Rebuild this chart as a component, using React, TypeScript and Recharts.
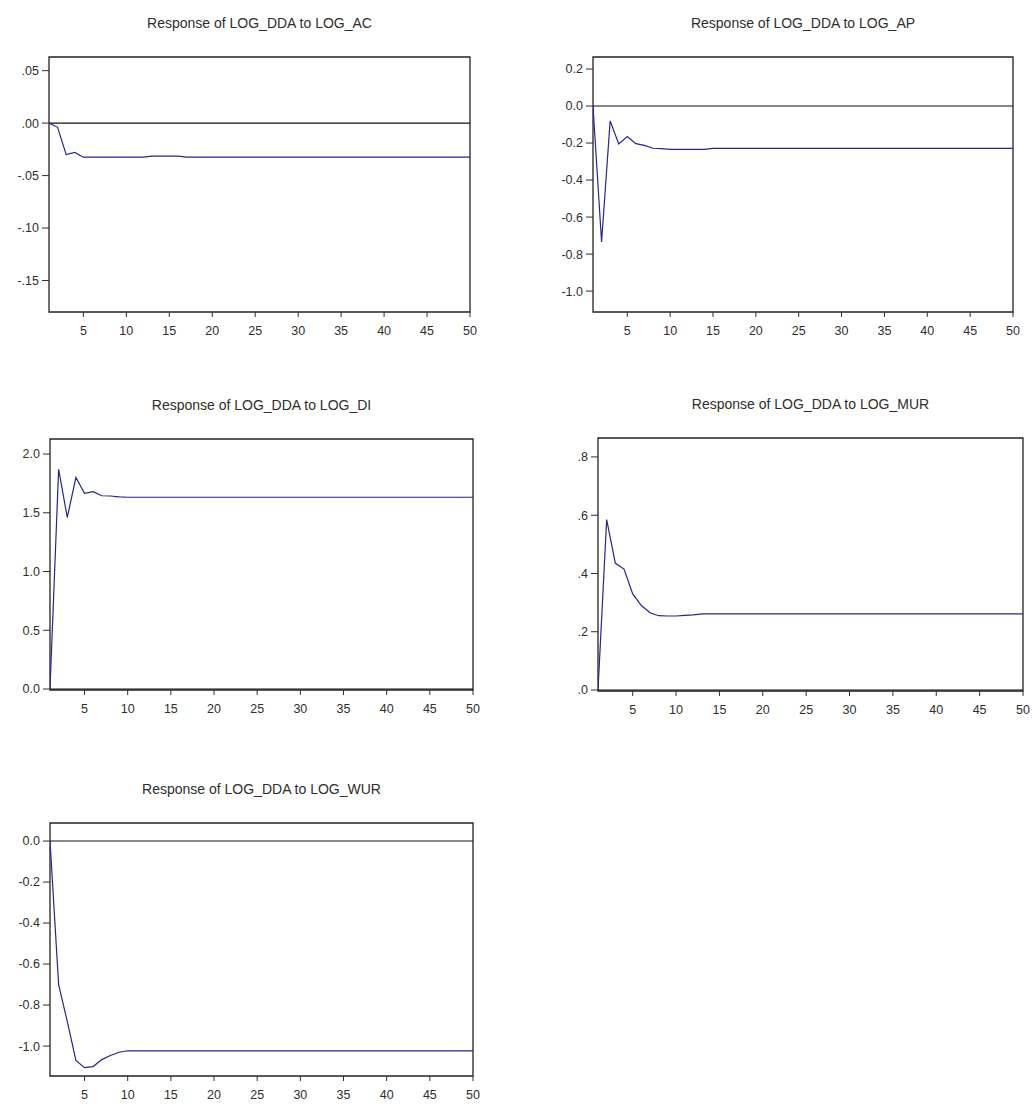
import React from "react";
import { LineChart, Line, XAxis, YAxis, ReferenceLine, ReferenceArea } from "recharts";

const periods = [1,2,3,4,5,6,7,8,9,10,11,12,13,14,15,16,17,18,19,20,21,22,23,24,25,26,27,28,29,30,31,32,33,34,35,36,37,38,39,40,41,42,43,44,45,46,47,48,49,50];

const respAC = [0,-0.004,-0.030,-0.028,-0.0325,-0.0325,-0.0325,-0.0325,-0.0325,-0.0325,-0.0325,-0.0325,-0.0315,-0.0315,-0.0315,-0.0315,-0.0325,-0.0325,-0.0325,-0.0325,-0.0325,-0.0325,-0.0325,-0.0325,-0.0325,-0.0325,-0.0325,-0.0325,-0.0325,-0.0325,-0.0325,-0.0325,-0.0325,-0.0325,-0.0325,-0.0325,-0.0325,-0.0325,-0.0325,-0.0325,-0.0325,-0.0325,-0.0325,-0.0325,-0.0325,-0.0325,-0.0325,-0.0325,-0.0325,-0.0325];

const respAP = [0,-0.735,-0.08,-0.205,-0.165,-0.203,-0.213,-0.228,-0.23,-0.234,-0.234,-0.234,-0.234,-0.234,-0.229,-0.229,-0.229,-0.229,-0.229,-0.229,-0.229,-0.229,-0.229,-0.229,-0.229,-0.229,-0.229,-0.229,-0.229,-0.229,-0.229,-0.229,-0.229,-0.229,-0.229,-0.229,-0.229,-0.229,-0.229,-0.229,-0.229,-0.229,-0.229,-0.229,-0.229,-0.229,-0.229,-0.229,-0.229,-0.229];

const respDI = [0,1.87,1.46,1.80,1.665,1.68,1.645,1.643,1.635,1.632,1.632,1.632,1.632,1.632,1.632,1.632,1.632,1.632,1.632,1.632,1.632,1.632,1.632,1.632,1.632,1.632,1.632,1.632,1.632,1.632,1.632,1.632,1.632,1.632,1.632,1.632,1.632,1.632,1.632,1.632,1.632,1.632,1.632,1.632,1.632,1.632,1.632,1.632,1.632,1.632];

const respMUR = [0,0.585,0.435,0.415,0.33,0.29,0.265,0.255,0.254,0.254,0.256,0.258,0.261,0.261,0.261,0.261,0.261,0.261,0.261,0.261,0.261,0.261,0.261,0.261,0.261,0.261,0.261,0.261,0.261,0.261,0.261,0.261,0.261,0.261,0.261,0.261,0.261,0.261,0.261,0.261,0.261,0.261,0.261,0.261,0.261,0.261,0.261,0.261,0.261,0.261];

const respWUR = [0,-0.70,-0.88,-1.07,-1.105,-1.10,-1.066,-1.046,-1.03,-1.023,-1.023,-1.023,-1.023,-1.023,-1.023,-1.023,-1.023,-1.023,-1.023,-1.023,-1.023,-1.023,-1.023,-1.023,-1.023,-1.023,-1.023,-1.023,-1.023,-1.023,-1.023,-1.023,-1.023,-1.023,-1.023,-1.023,-1.023,-1.023,-1.023,-1.023,-1.023,-1.023,-1.023,-1.023,-1.023,-1.023,-1.023,-1.023,-1.023,-1.023];

const xTicks = [5,10,15,20,25,30,35,40,45,50];

const acTicks = [0.05,0,-0.05,-0.1,-0.15];
const acLabels = [".05",".00","-.05","-.10","-.15"];
const apTicks = [0.2,0,-0.2,-0.4,-0.6,-0.8,-1.0];
const apLabels = ["0.2","0.0","-0.2","-0.4","-0.6","-0.8","-1.0"];
const diTicks = [0,0.5,1.0,1.5,2.0];
const diLabels = ["0.0","0.5","1.0","1.5","2.0"];
const murTicks = [0,0.2,0.4,0.6,0.8];
const murLabels = [".0",".2",".4",".6",".8"];
const wurTicks = [0,-0.2,-0.4,-0.6,-0.8,-1.0];
const wurLabels = ["0.0","-0.2","-0.4","-0.6","-0.8","-1.0"];

const titles = [
  "Response of LOG_DDA to LOG_AC",
  "Response of LOG_DDA to LOG_AP",
  "Response of LOG_DDA to LOG_DI",
  "Response of LOG_DDA to LOG_MUR",
  "Response of LOG_DDA to LOG_WUR",
];

const rows = periods.map((p, i) => ({
  period: p,
  ac: respAC[i],
  ap: respAP[i],
  di: respDI[i],
  mur: respMUR[i],
  wur: respWUR[i],
}));

const FONT = '"Liberation Sans", Arial, sans-serif';
const LINE = "#26268a";
const INK = "#2e2e2e";

type PanelProps = {
  title: string;
  dataKey: string;
  yDomain: [number, number];
  yTicks: number[];
  yLabels: string[];
  L: number; R: number; T: number; B: number;
};

const YW = 49;
const TOP = 10;
const RIGHT = 12;
const XH = 30;

function Panel({ title, dataKey, yDomain, yTicks, yLabels, L, R, T, B }: PanelProps) {
  const w = R - L;
  const h = B - T;
  return (
    <>
      <div
        style={{
          position: "absolute",
          left: L - 60,
          width: w + 120,
          top: T - 42,
          textAlign: "center",
          fontFamily: FONT,
          fontSize: 14,
          lineHeight: "16px",
          color: INK,
          whiteSpace: "nowrap",
        }}
      >
        {title}
      </div>
      <div style={{ position: "absolute", left: L - YW, top: T - TOP }}>
        <LineChart
          width={YW + w + RIGHT}
          height={TOP + h + XH}
          data={rows}
          margin={{ top: TOP, right: RIGHT, left: 0, bottom: 0 }}
        >
          <XAxis
            dataKey="period"
            type="number"
            domain={[1, 50]}
            ticks={xTicks}
            allowDataOverflow
            axisLine={false}
            tickLine={{ stroke: INK }}
            tickSize={5}
            tickMargin={9}
            height={XH}
            interval={0}
            tick={{ fontSize: 12.5, fontFamily: FONT, fill: INK }}
          />
          <YAxis
            type="number"
            domain={yDomain}
            ticks={yTicks}
            allowDataOverflow
            axisLine={false}
            tickLine={{ stroke: INK }}
            tickSize={7}
            tickMargin={3}
            width={YW}
            interval={0}
            tickFormatter={(v: number) => {
              const idx = yTicks.findIndex((t) => Math.abs(t - v) < 1e-9);
              return idx >= 0 ? yLabels[idx] : String(v);
            }}
            tick={{ fontSize: 12.5, fontFamily: FONT, fill: INK }}
          />
          <ReferenceArea
            x1={1}
            x2={50}
            y1={yDomain[0]}
            y2={yDomain[1]}
            fill="none"
            fillOpacity={0}
            stroke="#222"
            strokeWidth={1.3}
            ifOverflow="visible"
          />
          <ReferenceLine y={0} stroke="#111" strokeWidth={1.1} ifOverflow="visible" />
          <Line
            type="linear"
            dataKey={dataKey}
            stroke={LINE}
            strokeWidth={1.2}
            dot={false}
            isAnimationActive={false}
          />
        </LineChart>
      </div>
    </>
  );
}

export default function App() {
  return (
    <div
      style={{
        position: "absolute",
        left: 0,
        top: 0,
        width: 1033,
        height: 1104,
        background: "#fff",
        overflow: "hidden",
      }}
    >
      <Panel title={titles[0]} dataKey="ac" yDomain={[-0.18, 0.063]} yTicks={acTicks} yLabels={acLabels} L={49} R={470} T={57} B={312} />
      <Panel title={titles[1]} dataKey="ap" yDomain={[-1.113, 0.265]} yTicks={apTicks} yLabels={apLabels} L={593} R={1013} T={57} B={312} />
      <Panel title={titles[2]} dataKey="di" yDomain={[-0.0085, 2.128]} yTicks={diTicks} yLabels={diLabels} L={50} R={473} T={439} B={690} />
      <Panel title={titles[3]} dataKey="mur" yDomain={[-0.0034, 0.865]} yTicks={murTicks} yLabels={murLabels} L={598} R={1023} T={438} B={691} />
      <Panel title={titles[4]} dataKey="wur" yDomain={[-1.146, 0.088]} yTicks={wurTicks} yLabels={wurLabels} L={50} R={473} T={823} B={1076} />
    </div>
  );
}
